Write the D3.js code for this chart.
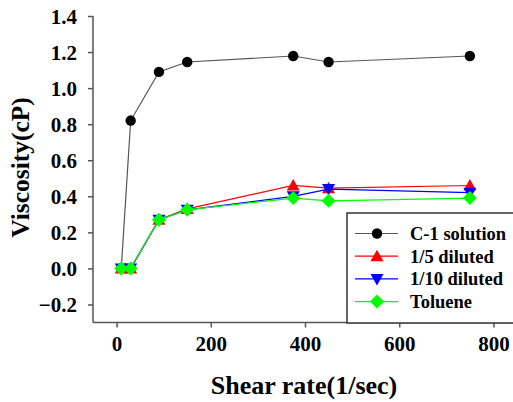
<!DOCTYPE html>
<html><head><meta charset="utf-8">
<script src="https://cdn.jsdelivr.net/npm/d3@7"></script>
<style>html,body{margin:0;padding:0;background:#fff;}svg{display:block;}</style>
</head><body>
<svg id="c" width="513" height="402"></svg>
<script>
const shearRate = [10, 30, 90, 150, 375, 450, 750];
const c1Solution = [0, 0.82, 1.09, 1.145, 1.178, 1.145, 1.178];
const diluted5 = [0, 0, 0.27, 0.33, 0.46, 0.445, 0.46];
const diluted10 = [0, 0, 0.27, 0.325, 0.40, 0.44, 0.42];
const toluene = [0, 0, 0.27, 0.325, 0.39, 0.375, 0.39];
const xTicks = [0, 200, 400, 600, 800];
const yTicks = [-0.2, 0.0, 0.2, 0.4, 0.6, 0.8, 1.0, 1.2, 1.4];
const seriesNames = ["C-1 solution", "1/5 diluted", "1/10 diluted", "Toluene"];

const series = [
  {name: seriesNames[0], values: c1Solution, line: "#555", fill: "#000", sym: "circle"},
  {name: seriesNames[1], values: diluted5, line: "#ff0000", fill: "#ff0000", sym: "up"},
  {name: seriesNames[2], values: diluted10, line: "#0000ff", fill: "#0000ff", sym: "down"},
  {name: seriesNames[3], values: toluene, line: "#00ff00", fill: "#00ff00", sym: "diamond"}
];

const svg = d3.select("#c");
const L = 93, T = 16, B = 322.5, R = 517;
const x = d3.scaleLinear().domain([-50, 850]).range([L, R]);
const y = d3.scaleLinear().domain([-0.3, 1.4]).range([B, T]);
const font = "Liberation Serif";

function symPath(s) {
  if (s === "circle") return d3.symbol(d3.symbolCircle, 85)();
  if (s === "up") return "M0,-6.5L6.5,5L-6.5,5Z";
  if (s === "down") return "M0,6.5L6.5,-5L-6.5,-5Z";
  return "M0,-7L7,0L0,7L-7,0Z";
}

// axes
const yAxis = d3.axisLeft(y).tickValues(yTicks).tickSize(5).tickFormat(d3.format(".1f"));
const gy = svg.append("g").attr("transform", `translate(${L},0)`).call(yAxis);
gy.select(".domain").attr("d", `M0,${T}V${B}`);
const xAxis = d3.axisBottom(x).tickValues(xTicks).tickSize(5).tickFormat(d3.format("d"));
const gx = svg.append("g").attr("transform", `translate(0,${B})`).call(xAxis);
gx.select(".domain").attr("d", `M${L},0H${R}`);
[gx, gy].forEach(g => {
  g.attr("font-family", font).attr("font-size", 21).attr("font-weight", "bold");
  g.selectAll(".domain").attr("stroke", "#555").attr("stroke-width", 1.5);
  g.selectAll(".tick line").attr("stroke", "#555").attr("stroke-width", 1.5);
  g.selectAll(".tick text").attr("fill", "#000");
});
gy.selectAll(".tick text").attr("x", -16).attr("dy", "0.35em");
gx.selectAll(".tick text").attr("y", 14).attr("dy", "0.71em");

// lines & markers
const line = d3.line().x((d, i) => x(shearRate[i])).y(d => y(d));
series.forEach(s => {
  svg.append("path").datum(s.values).attr("d", line)
    .attr("fill", "none").attr("stroke", s.line).attr("stroke-width", 1.2);
  svg.append("g").selectAll("path").data(s.values).join("path")
    .attr("d", symPath(s.sym))
    .attr("transform", (d, i) => `translate(${x(shearRate[i])},${y(d)})`)
    .attr("fill", s.fill);
});

// legend
const lg = svg.append("g");
lg.append("rect").attr("x", 347).attr("y", 213).attr("width", 180).attr("height", 110)
  .attr("fill", "#fff").attr("stroke", "#333").attr("stroke-width", 1.5);
series.forEach((s, i) => {
  const yy = 233.5 + i * 22.7;
  lg.append("line").attr("x1", 355).attr("x2", 398).attr("y1", yy).attr("y2", yy)
    .attr("stroke", s.line).attr("stroke-width", 1.2);
  lg.append("path").attr("d", symPath(s.sym)).attr("transform", `translate(377,${yy})`).attr("fill", s.fill);
  lg.append("text").attr("x", 410).attr("y", yy).attr("dy", "0.35em").text(s.name)
    .attr("font-family", font).attr("font-size", 18.5).attr("font-weight", "bold");
});

// titles
svg.append("text").attr("x", 304).attr("y", 394).attr("text-anchor", "middle")
  .text("Shear rate(1/sec)").attr("font-family", font).attr("font-size", 26).attr("font-weight", "bold");
svg.append("text").attr("transform", "translate(29,167.5) rotate(-90)").attr("text-anchor", "middle")
  .text("Viscosity(cP)").attr("font-family", font).attr("font-size", 25.5).attr("font-weight", "bold");
</script>
</body></html>
